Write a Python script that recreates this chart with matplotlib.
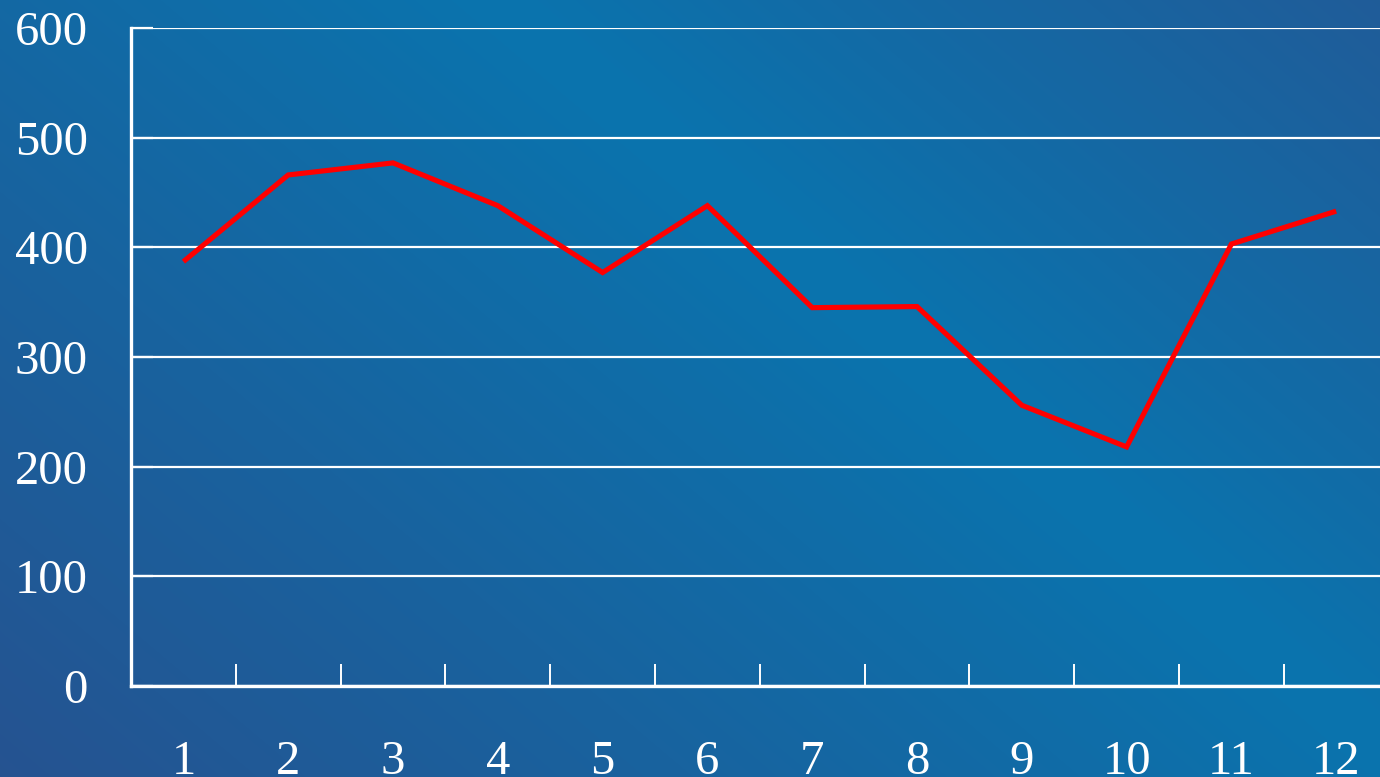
import numpy as np
import matplotlib.pyplot as plt
from matplotlib.colors import LinearSegmentedColormap

months = ['1', '2', '3', '4', '5', '6', '7', '8', '9', '10', '11', '12']
values = [387, 466, 477, 438, 377, 438, 345, 346, 256, 218, 403, 433]
yticks = [0, 100, 200, 300, 400, 500, 600]

W, H = 1380, 777
fig = plt.figure(figsize=(W / 100, H / 100), dpi=100)

# diagonal background gradient: dark corners, bright band in the middle
bg = fig.add_axes([0, 0, 1, 1], zorder=0)
xx, yy = np.meshgrid(np.arange(W), np.arange(H))
n = np.array([760.0, -900.0]) / np.hypot(760, 900)
d = (xx - 500) * n[0] + yy * n[1]
t = np.where(d > 0, np.clip(d / 620, 0, 1), -np.clip(-d / 1000, 0, 1))
cmap = LinearSegmentedColormap.from_list(
    'bg', [(0.0, '#28508e'), (0.5, '#0a74ae'), (1.0, '#225a97')])
bg.imshow((t + 1) / 2, cmap=cmap, vmin=0, vmax=1, aspect='auto',
          interpolation='bilinear')
bg.axis('off')

left, bottom, top = 131 / W, 1 - 686 / H, 1 - 28 / H
right = (131 + 12 * 104.8) / W
ax = fig.add_axes([left, bottom, right - left, top - bottom], zorder=1)
ax.patch.set_alpha(0)

x = np.arange(len(values)) + 0.5
ax.plot(x, values, color='#ff0000', lw=3.7, solid_joinstyle='miter',
        solid_capstyle='butt', zorder=3)

ax.set_xlim(0, 12)
ax.set_ylim(0, 600)
ax.set_yticks(yticks)
ax.set_yticklabels([str(v) for v in yticks])
ax.yaxis.grid(True, color='white', lw=1.6)
ax.set_axisbelow(True)

ax.set_xticks(np.arange(0, 13))
ax.set_xticklabels([])
ax.set_xticks(x, minor=True)
ax.set_xticklabels(months, minor=True)

font = 'Liberation Serif'
ax.tick_params(axis='x', which='major', direction='in', length=16, width=1.4,
               color='white')
ax.tick_params(axis='x', which='minor', length=0, pad=39, labelsize=35,
               labelcolor='white', labelfontfamily=font)
ax.tick_params(axis='y', direction='in', length=16, width=1.6, color='white',
               pad=31, labelsize=35, labelcolor='white', labelfontfamily=font)

for s in ['top', 'right']:
    ax.spines[s].set_visible(False)
for s in ['left', 'bottom']:
    ax.spines[s].set_color('white')
    ax.spines[s].set_linewidth(2.4)

fig.savefig('out.png', dpi=100)
